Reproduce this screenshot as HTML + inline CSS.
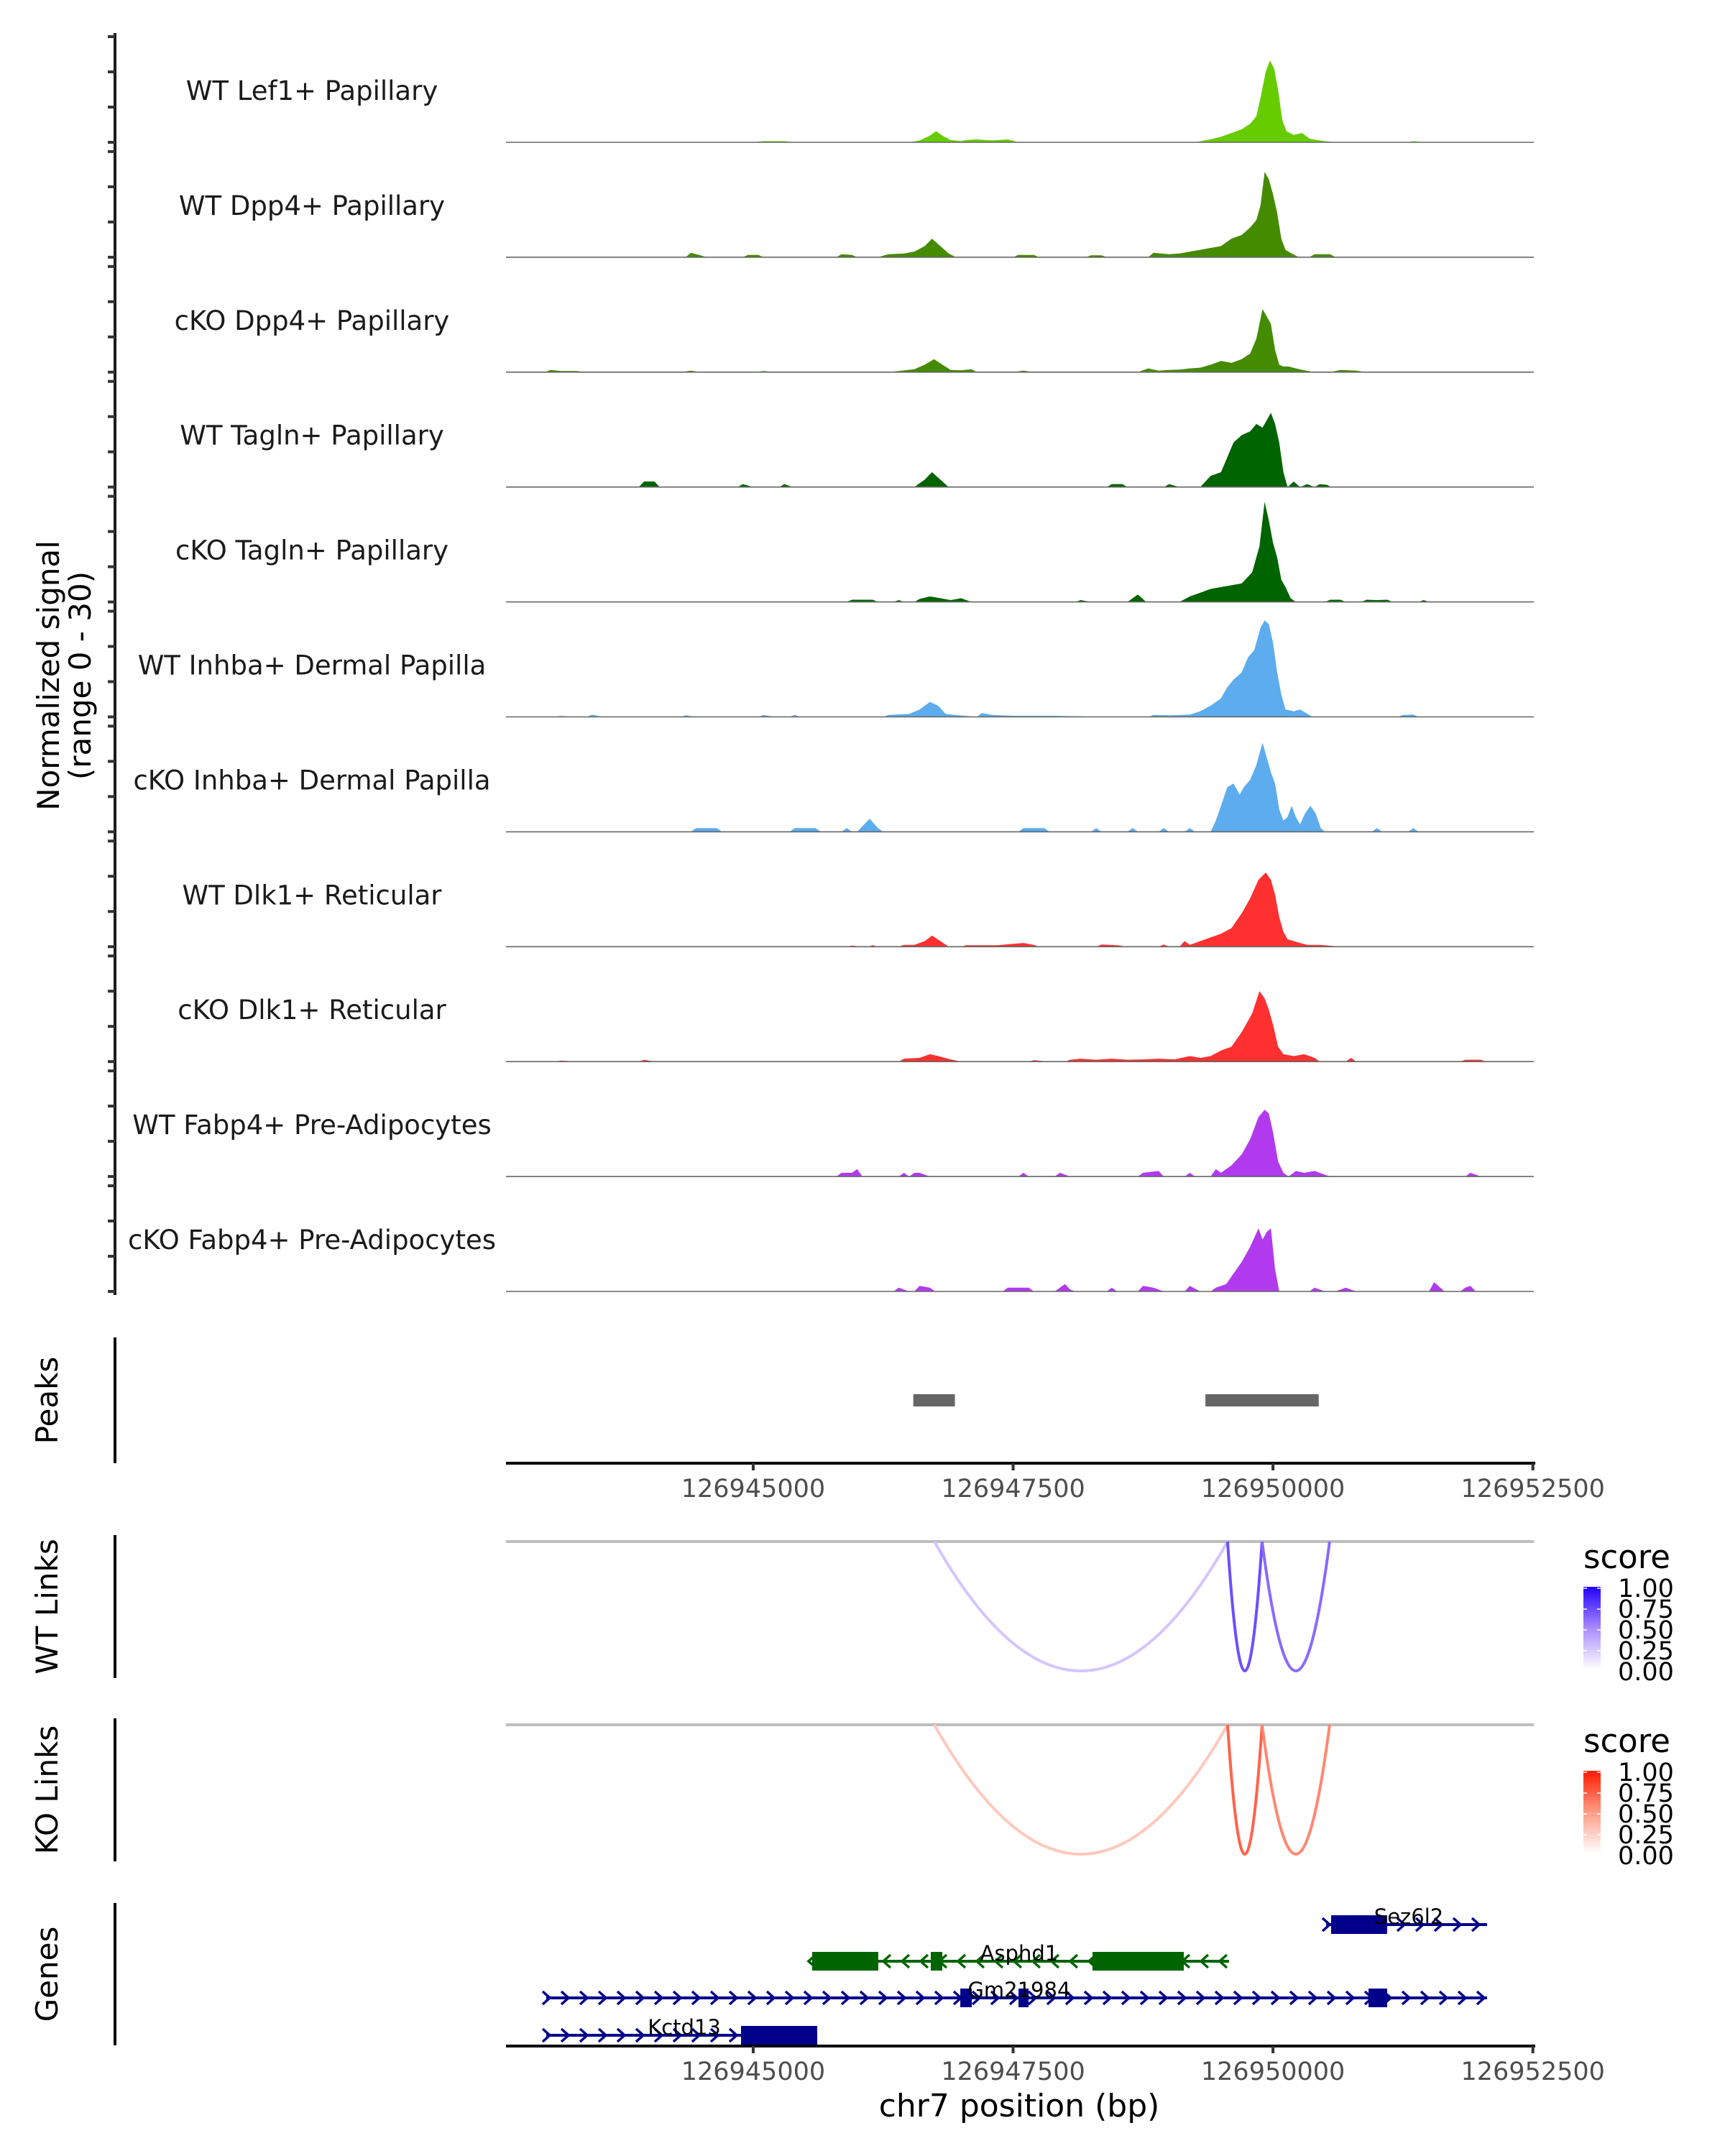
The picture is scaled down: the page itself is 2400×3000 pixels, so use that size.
<!DOCTYPE html>
<html><head><meta charset="utf-8">
<style>
html,body{margin:0;padding:0;background:#fff;}
svg{display:block;font-family:"DejaVu Sans","Liberation Sans",sans-serif;}
</style></head>
<body>
<svg id="chart" width="2400" height="3000" viewBox="0 0 2400 3000" xmlns="http://www.w3.org/2000/svg">
<rect x="0" y="0" width="2400" height="3000" fill="#fff"/>
<g id="g-main"></g>
</svg>
<script>
const OFFSET = 126940000;
const trackNames = ["WT Lef1+ Papillary","WT Dpp4+ Papillary","cKO Dpp4+ Papillary","WT Tagln+ Papillary","cKO Tagln+ Papillary","WT Inhba+ Dermal Papilla","cKO Inhba+ Dermal Papilla","WT Dlk1+ Reticular","cKO Dlk1+ Reticular","WT Fabp4+ Pre-Adipocytes","cKO Fabp4+ Pre-Adipocytes"];
const trackColors = ["#66CC00","#458B00","#458B00","#006400","#006400","#5CACEE","#5CACEE","#FF3030","#FF3030","#B23AEE","#B23AEE"];
const xTicks = [126945000,126947500,126950000,126952500];
const sigWtLef1 = [[5000,0],[5100,0.3],[5300,0.3],[5400,0],[6500,0],[6600,0.5],[6700,1.8],[6760,3],[6820,1.8],[6900,0.6],[7000,0.3],[7050,0.6],[7150,0.8],[7300,0.5],[7450,0.8],[7550,0],[9250,0],[9400,0.8],[9500,1.5],[9600,2.5],[9700,3.5],[9780,5],[9840,7],[9880,12],[9930,19],[9970,22],[10010,20],[10050,14],[10090,6],[10130,3],[10200,2],[10280,2.5],[10350,1],[10420,0.6],[10500,0.3],[10600,0],[11300,0],[11350,0.3],[11450,0]];
const sigWtDpp4 = [[4350,0],[4400,1.2],[4480,0.6],[4550,0],[4900,0],[4950,0.6],[5050,0.6],[5100,0],[5800,0],[5850,0.8],[5950,0.6],[6000,0],[6200,0],[6300,0.8],[6450,1.0],[6550,1.5],[6650,3],[6720,5],[6800,3],[6880,1],[6950,0],[7500,0],[7550,0.6],[7700,0.6],[7750,0],[8200,0],[8250,0.5],[8350,0.5],[8400,0],[8800,0],[8850,1.2],[9000,0.8],[9100,1.0],[9200,1.5],[9300,2],[9400,2.5],[9500,3],[9600,5],[9700,6],[9780,8],[9840,10],[9880,14],[9920,23],[9960,21],[10000,17],[10040,12],[10080,5],[10120,2],[10180,1],[10250,0],[10350,0],[10400,0.8],[10550,0.8],[10600,0]];
const sigKoDpp4 = [[3000,0],[3050,0.6],[3150,0.3],[3300,0.3],[3400,0],[4300,0],[4400,0.4],[4500,0],[5000,0],[5100,0.3],[5200,0],[6300,0],[6400,0.3],[6550,0.8],[6650,2],[6740,3.5],[6820,2],[6900,0.6],[7000,0.5],[7100,0.8],[7150,0],[7500,0],[7600,0.4],[7700,0],[8700,0],[8800,1],[8900,0.4],[9000,0.6],[9100,0.7],[9200,1],[9300,1.2],[9400,2],[9500,3],[9600,2.5],[9700,3.5],[9780,5],[9840,9],[9900,17],[9940,15],[9980,13],[10020,6],[10060,2],[10100,1.5],[10150,1.5],[10220,1],[10300,0.5],[10400,0],[10550,0],[10650,0.6],[10800,0.4],[10900,0]];
const sigWtTagln = [[3900,0],[3950,1.5],[4050,1.5],[4100,0],[4850,0],[4900,0.8],[5000,0],[5250,0],[5300,0.8],[5380,0],[6550,0],[6650,2],[6720,4],[6800,2],[6880,0],[8400,0],[8450,0.8],[8550,0.8],[8600,0],[8950,0],[9000,0.8],[9100,0],[9300,0],[9400,3],[9500,4],[9560,8],[9620,12],[9700,14],[9780,15],[9840,17],[9900,16],[9940,18],[9980,20],[10020,17],[10060,12],[10100,4],[10140,0],[10200,1.5],[10260,0],[10330,0.8],[10400,0],[10450,0.8],[10520,0.6],[10560,0]];
const sigKoTagln = [[5900,0],[5950,0.6],[6150,0.6],[6200,0],[6350,0],[6400,0.5],[6450,0],[6550,0],[6600,0.8],[6700,1.5],[6800,1],[6900,0.5],[7000,1],[7100,0],[8100,0],[8150,0.5],[8250,0],[8600,0],[8700,2],[8780,0],[9100,0],[9200,1.5],[9300,2.5],[9400,3.5],[9500,4],[9600,4.5],[9700,5],[9800,8],[9870,15],[9920,27],[9960,22],[10000,16],[10040,12],[10080,6],[10120,4],[10170,1],[10220,0],[10500,0],[10550,0.6],[10650,0.6],[10700,0],[10850,0],[10900,0.6],[11000,0.5],[11100,0.6],[11150,0],[11400,0],[11450,0.5],[11500,0]];
const sigWtInhba = [[3100,0],[3150,0.3],[3250,0],[3400,0],[3450,0.6],[3550,0],[4300,0],[4350,0.4],[4450,0],[5050,0],[5100,0.5],[5200,0],[5350,0],[5400,0.5],[5450,0],[6250,0],[6300,0.5],[6500,0.8],[6600,2],[6700,4],[6780,3],[6850,0.8],[6950,0.5],[7150,0],[7200,1],[7300,0.5],[7500,0.3],[7900,0.3],[8400,0],[8800,0],[8850,0.5],[9000,0.4],[9200,0.6],[9300,1.5],[9400,3],[9500,5],[9560,8],[9620,10],[9700,12],[9760,16],[9820,18],[9880,24],[9920,26],[9960,25],[10000,20],[10040,12],[10080,6],[10120,2],[10200,1.5],[10260,2],[10320,1],[10380,0],[11200,0],[11250,0.5],[11350,0.6],[11400,0]];
const sigKoInhba = [[4400,0],[4450,1],[4650,1],[4700,0],[5350,0],[5400,1],[5600,1],[5650,0],[5850,0],[5900,1],[5950,0],[6000,0],[6050,1.5],[6120,3.5],[6200,1],[6250,0],[7550,0],[7600,1],[7800,1],[7850,0],[8250,0],[8300,1],[8350,0],[8600,0],[8650,1],[8700,0],[8900,0],[8950,1],[9000,0],[9150,0],[9200,1],[9250,0],[9400,0],[9450,3],[9500,7],[9560,12],[9620,13],[9680,10],[9720,12],[9780,14],[9840,18],[9900,24],[9940,20],[9980,16],[10020,13],[10060,6],[10100,3],[10140,4],[10180,7],[10220,4],[10260,2],[10310,5],[10360,7],[10410,5],[10460,1],[10500,0],[10950,0],[11000,1],[11050,0],[11300,0],[11350,1],[11400,0]];
const sigWtDlk1 = [[5900,0],[5950,0.3],[6050,0],[6100,0],[6150,0.4],[6200,0],[6400,0],[6450,0.5],[6550,0.5],[6650,1.5],[6720,3],[6800,1.5],[6880,0],[7000,0],[7050,0.4],[7350,0.4],[7600,1],[7700,0.5],[7750,0],[8300,0],[8350,0.6],[8500,0.4],[8600,0],[8900,0],[8950,0.6],[9000,0],[9100,0],[9150,1.5],[9200,0.5],[9300,1.5],[9400,2.5],[9500,3.5],[9600,5],[9700,9],[9780,13],[9860,18],[9930,20],[9980,18],[10020,14],[10060,8],[10100,4],[10140,2],[10200,1.5],[10260,1],[10330,0.5],[10450,0.5],[10650,0]];
const sigKoDlk1 = [[3100,0],[3150,0.3],[3300,0],[3900,0],[3950,0.5],[4050,0],[6400,0],[6450,0.8],[6600,1],[6700,2],[6780,1.5],[6900,0.6],[7000,0],[7650,0],[7700,0.4],[7850,0],[8000,0],[8050,0.5],[8150,0.8],[8300,0.5],[8450,0.8],[8600,0.5],[8750,0.6],[8900,0.8],[9050,0.6],[9200,1.5],[9300,1],[9400,1.5],[9500,3],[9600,4],[9700,8],[9800,13],[9870,19],[9920,17],[9960,14],[10000,10],[10050,4],[10100,2],[10200,1.5],[10300,2],[10400,1],[10450,0],[10700,0],[10750,1],[10800,0],[11800,0],[11850,0.5],[12000,0.5],[12050,0]];
const sigWtFabp4 = [[5800,0],[5850,1],[5950,1],[6000,2],[6050,0],[6400,0],[6450,1],[6500,0],[6550,1],[6600,1],[6700,0],[7550,0],[7600,1],[7650,0],[7900,0],[7950,1],[8050,0],[8700,0],[8750,1],[8900,1.5],[8950,0],[9150,0],[9200,1],[9250,0],[9400,0],[9450,2],[9500,1],[9550,2],[9600,3],[9700,6],[9780,10],[9860,16],[9920,18],[9960,17],[10000,12],[10050,4],[10100,1],[10150,0],[10220,1.5],[10300,1],[10400,1.5],[10550,0],[11850,0],[11900,1],[12000,0]];
const sigKoFabp4 = [[6350,0],[6400,1],[6500,0],[6550,0],[6600,1.5],[6700,1],[6750,0],[7400,0],[7450,1],[7650,1],[7700,0],[7900,0],[7950,1],[8000,2],[8050,0.5],[8100,0],[8400,0],[8450,1],[8500,0],[8700,0],[8750,1.5],[8850,1],[8950,0],[9150,0],[9200,1.5],[9300,0],[9400,0],[9450,1],[9550,2],[9600,4],[9700,8],[9780,12],[9860,17],[9900,14],[9940,16],[9980,17],[10020,6],[10060,0],[10350,0],[10400,1],[10500,0],[10600,0],[10700,1],[10800,0],[11500,0],[11550,2.5],[11650,0],[11800,0],[11850,1],[11900,1.5],[11950,0]];
const trackSignals = [sigWtLef1,sigWtDpp4,sigKoDpp4,sigWtTagln,sigKoTagln,sigWtInhba,sigKoInhba,sigWtDlk1,sigKoDlk1,sigWtFabp4,sigKoFabp4];
const peakStarts = [6540,9350];
const peakEnds = [6940,10440];
const linkStarts = [6742,9563,9895];
const linkEnds = [9563,9895,10545];
const wtLinkScores = [0.25,0.72,0.62];
const koLinkScores = [0.28,0.72,0.58];
const legendTicks = ["1.00","0.75","0.50","0.25","0.00"];
const geneNames = ["Sez6l2","Asphd1","Gm21984","Kctd13"];
const geneStarts = [10511,5567,3009,3009];
const geneEnds = [12059,9577,12059,5616];
const geneStrands = ["+","-","+","+"];
const geneExons = [[[10559,11098]],[[5567,6203],[6708,6819],[8264,9142]],[[6992,7102],[7552,7649],[10919,11098]],[[4883,5616]]];
const geneLabelPos = [11306,7558,7558,4337];
const geneColors = ["#00008B","#006400","#00008B","#00008B"];

const NS = "http://www.w3.org/2000/svg";
const root = document.getElementById("g-main");
const X0 = 704, X1 = 2134, DOM0 = 126942622, DOM1 = 126952509;
function xs(bp){ return X0 + (bp - DOM0) * (X1 - X0) / (DOM1 - DOM0); }
function xr(rel){ return xs(rel + OFFSET); }
const PXU = 155/30;
function el(tag, attrs, parent){ const e=document.createElementNS(NS,tag); for(const k in attrs) e.setAttribute(k,attrs[k]); (parent||root).appendChild(e); return e; }
function txt(s, attrs, parent){ const t=el("text",attrs,parent); t.textContent=s; return t; }

const base0 = 198, trackStep = 159.9;
const axis = el("line",{x1:160,y1:46,x2:160,y2:1802,stroke:"#1a1a1a","stroke-width":4});


trackSignals.forEach((sig,i)=>{
  const b = base0 + trackStep*i;
  const g = el("g",{});
  
  
  [0,49,98,147].forEach(o=>{ el("line",{x1:150,x2:160,y1:b-o,y2:b-o,stroke:"#333","stroke-width":4},g); });
  let d = "M"+xr(sig[0][0]).toFixed(1)+","+b;
  sig.forEach(p=>{ d += " L"+xr(p[0]).toFixed(1)+","+(b - p[1]*PXU).toFixed(1); });
  d += " L"+xr(sig[sig.length-1][0]).toFixed(1)+","+b+" Z";
  const area = el("path",{d:d,fill:trackColors[i]},g);
  
  
  el("line",{x1:X0,x2:X1,y1:b,y2:b,stroke:"#666","stroke-width":1.6},g);
  const lab = txt(trackNames[i],{x:434,y:b-59,"text-anchor":"middle","font-size":37,fill:"#1a1a1a"},g);
  
  
});
const yt = el("g",{transform:"translate(0,940) rotate(-90)"});


txt("Normalized signal",{x:0,y:82,"text-anchor":"middle","font-size":42,fill:"#000"},yt);
txt("(range 0 - 30)",{x:0,y:126,"text-anchor":"middle","font-size":42,fill:"#000"},yt);

function sideTitle(s, y1, y2, name){
  const ln = el("line",{x1:160,x2:160,y1:y1,y2:y2,stroke:"#000","stroke-width":4});
  
  
  const t = txt(s,{x:0,y:0,"text-anchor":"middle","font-size":42,fill:"#000",transform:"translate(80,"+((y1+y2)/2)+") rotate(-90)"});
  
  
}
function xAxis(y, name){
  const g = el("g",{});
  
  
  el("line",{x1:X0,x2:X1+2,y1:y,y2:y,stroke:"#000","stroke-width":4},g);
  xTicks.forEach(t=>{
    el("line",{x1:xs(t),x2:xs(t),y1:y,y2:y+10,stroke:"#333","stroke-width":4},g);
    const l = txt(String(t),{x:xs(t),y:y+47,"text-anchor":"middle","font-size":35,fill:"#4d4d4d"},g);
    
    
  });
}

sideTitle("Peaks",1861,2036,"peaks");
peakStarts.forEach((s,i)=>{
  const r = el("rect",{x:xr(s),y:1940,width:xr(peakEnds[i])-xr(s),height:17,fill:"#666"});
  
  
});
xAxis(2036,"peaks-x-axis");

function mix(c1,c2,t){ const a=[1,3,5].map(k=>parseInt(c1.substr(k,2),16)), b=[1,3,5].map(k=>parseInt(c2.substr(k,2),16)); return "rgb("+a.map((v,i)=>Math.round(v+(b[i]-v)*t)).join(",")+")"; }
function scaleCol(s, mid, hi){ return s<0.5 ? mix("#ffffff",mid,s/0.5) : mix(mid,hi,(s-0.5)/0.5); }
function linkPanel(y0, scores, mid, hi, name, title, legY){
  sideTitle(title, y0-9, y0+190, name);
  const bl = el("line",{x1:X0,x2:X1,y1:y0,y2:y0,stroke:"#bebebe","stroke-width":4});
  
  
  const depth = 180;
  linkStarts.forEach((s,i)=>{
    const a = xr(s), b = xr(linkEnds[i]), m=(a+b)/2;
    const p = el("path",{d:"M"+a+","+y0+" Q"+m+","+(y0+2*depth)+" "+b+","+y0,fill:"none",stroke:scaleCol(scores[i],mid,hi),"stroke-width":4});
    
    
  });
  const lg = el("g",{});
  
  
  txt("score",{x:2203,y:legY+15,"font-size":45,fill:"#000"},lg);
  const gid = name+"-grad";
  const defs = el("defs",{},lg);
  const gr = el("linearGradient",{id:gid,x1:0,y1:1,x2:0,y2:0},defs);
  el("stop",{offset:"0",  "stop-color":"#ffffff"},gr);
  el("stop",{offset:"0.5","stop-color":mid},gr);
  el("stop",{offset:"1",  "stop-color":hi},gr);
  el("rect",{x:2203,y:legY+41,width:24,height:115,fill:"url(#"+gid+")"},lg);
  legendTicks.forEach((t,i)=>{
    const yy = legY+43 + i*29;
    el("line",{x1:2203,x2:2208,y1:yy,y2:yy,stroke:"#fff","stroke-width":1.5},lg);
    el("line",{x1:2222,x2:2227,y1:yy,y2:yy,stroke:"#fff","stroke-width":1.5},lg);
    txt(t,{x:2251,y:yy+12,"font-size":35,fill:"#000"},lg);
  });
}
linkPanel(2145, wtLinkScores, "#a98bff", "#2200ff", "wt-links", "WT Links", 2167);
linkPanel(2400, koLinkScores, "#ff9c86", "#ff1a00", "ko-links", "KO Links", 2423);

sideTitle("Genes",2648,2846,"genes");
const rowY = [2678,2729,2780,2832];
geneNames.forEach((n,i)=>{
  const g = el("g",{});
  
  
  const y = rowY[i], c = geneColors[i];
  const a = xr(geneStarts[i]), b = xr(geneEnds[i]);
  el("line",{x1:a,x2:b,y1:y,y2:y,stroke:c,"stroke-width":4},g);
  const dir = geneStrands[i]==="+" ? 1 : -1;
  for(let x = a; x <= b+1; x += 26){
    el("polyline",{points:(x-5*dir)+","+(y-9)+" "+(x+5*dir)+","+y+" "+(x-5*dir)+","+(y+9),fill:"none",stroke:c,"stroke-width":3.5},g);
  }
  geneExons[i].forEach(e=>{ el("rect",{x:xr(e[0]),y:y-13,width:xr(e[1])-xr(e[0]),height:26,fill:c},g); });
  const l = txt(n,{x:xr(geneLabelPos[i]),y:y-1,"text-anchor":"middle","font-size":29,fill:"#000"},g);
  
  
});
xAxis(2847,"genes-x-axis");
const xt = txt("chr7 position (bp)",{x:1418,y:2945,"text-anchor":"middle","font-size":44,fill:"#000"});


</script>
</body></html>
